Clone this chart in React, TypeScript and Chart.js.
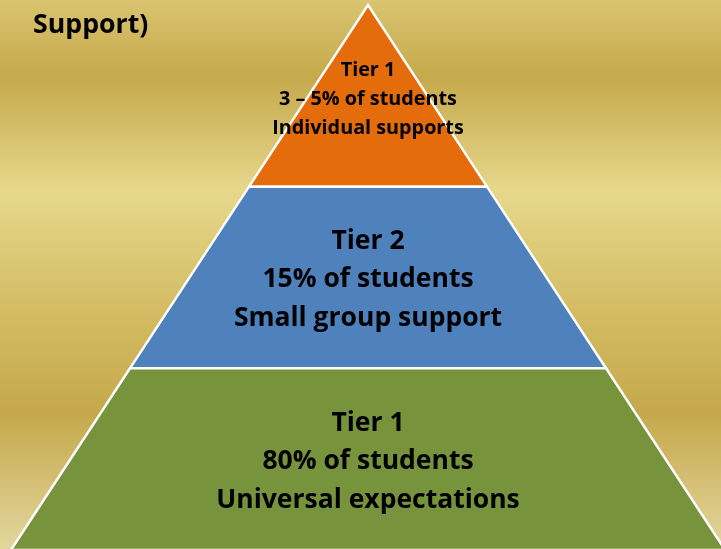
import React, { useEffect, useRef } from "react";
import { Chart, registerables } from "chart.js";

Chart.register(...registerables);

// ---- data (bottom tier first) ----
const tierNames = ["Tier 1", "Tier 2", "Tier 1"];
const tierShares = ["80% of students", "15% of students", "3 – 5% of students"];
const tierSupports = ["Universal expectations", "Small group support", "Individual supports"];
const tierLevels = [0, 1, 2, 3]; // level boundaries, apex at 3
const tierColors = ["#77933C", "#4F81BD", "#E46C0A"];
const titleText = "Support)";

const APEX = tierLevels[tierLevels.length - 1];
const FONT = "'Open Sans', Lato, sans-serif";

function tierPolygon(i: number) {
  const lo = tierLevels[i];
  const hi = tierLevels[i + 1];
  const pts = [
    { x: -(APEX - lo), y: lo },
    { x: APEX - lo, y: lo },
    { x: APEX - hi, y: hi },
    { x: -(APEX - hi), y: hi },
  ];
  pts.push({ ...pts[0] });
  return pts;
}

const bgPlugin = {
  id: "bgGold",
  beforeDraw(chart: any) {
    const { ctx, width, height } = chart;
    const g = ctx.createLinearGradient(0, 0, 0, height);
    g.addColorStop(0, "#D9C46F");
    g.addColorStop(77 / 549, "#C6A94C");
    g.addColorStop(192 / 549, "#E6D88B");
    g.addColorStop(300 / 549, "#D5BE67");
    g.addColorStop(414 / 549, "#C5A84B");
    g.addColorStop(1, "#E3D69E");
    ctx.save();
    ctx.fillStyle = g;
    ctx.fillRect(0, 0, width, height);
    ctx.restore();
  },
};

const labelPlugin = {
  id: "tierLabels",
  afterDatasetsDraw(chart: any) {
    const { ctx } = chart;
    const xs = chart.scales.x;
    const ys = chart.scales.y;
    const cx = xs.getPixelForValue(0);
    ctx.save();
    ctx.fillStyle = "#000000";
    ctx.textAlign = "center";
    ctx.textBaseline = "alphabetic";
    tierNames.forEach((name, i) => {
      const isTop = i === tierNames.length - 1;
      const size = isTop ? 19.8 : 26.5;
      const gap = isTop ? 29 : 38.5;
      const cap = isTop ? 14 : 18;
      const yTop = ys.getPixelForValue(tierLevels[i + 1]);
      const yBot = ys.getPixelForValue(tierLevels[i]);
      const mid = (yTop + yBot) / 2 + (isTop ? 2 : 1);
      ctx.font = `bold ${size}px ${FONT}`;
      const lines = [name, tierShares[i], tierSupports[i]];
      lines.forEach((t, k) => {
        ctx.fillText(t, cx, mid + cap / 2 + (k - 1) * gap);
      });
    });
    ctx.textAlign = "left";
    ctx.font = `bold 26.7px ${FONT}`;
    ctx.fillText(titleText, 33, 33);
    ctx.restore();
  },
};

export default function App() {
  const ref = useRef<HTMLCanvasElement | null>(null);
  useEffect(() => {
    if (!ref.current) return;
    const chart = new Chart(ref.current, {
      type: "line",
      data: {
        datasets: tierNames.map((n, i) => ({
          label: n,
          data: tierPolygon(i),
          backgroundColor: tierColors[i],
          borderColor: "#FFFFFF",
          borderWidth: 2.5,
          borderJoinStyle: "miter" as const,
          fill: "shape",
          tension: 0,
          pointRadius: 0,
          pointHoverRadius: 0,
        })),
      },
      options: {
        animation: false,
        responsive: false,
        events: [],
        layout: { padding: 0 },
        plugins: { legend: { display: false }, tooltip: { enabled: false }, title: { display: false } },
        scales: {
          x: { type: "linear", display: false, min: -3.092, max: 2.966 },
          y: { type: "linear", display: false, min: 0.0055, max: 3.0275 },
        },
      },
      plugins: [bgPlugin, labelPlugin],
    });
    return () => chart.destroy();
  }, []);
  return (
    <div style={{ position: "fixed", left: 0, top: 0, width: 721, height: 549 }}>
      <canvas ref={ref} width={721} height={549} style={{ display: "block" }} />
    </div>
  );
}
